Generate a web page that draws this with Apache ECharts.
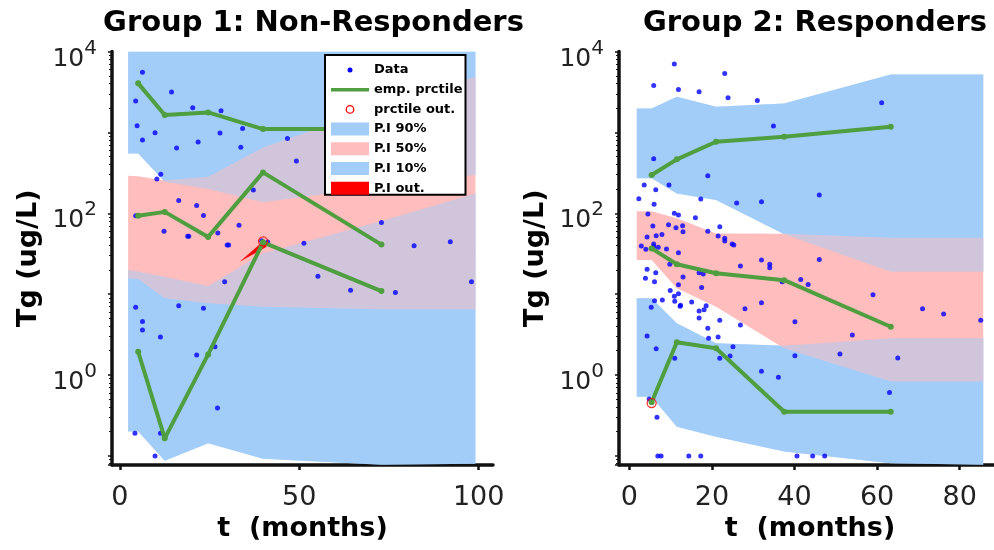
<!DOCTYPE html>
<html><head><meta charset="utf-8">
<script src="https://cdn.jsdelivr.net/npm/echarts@6.0.0/dist/echarts.min.js"></script>
<style>html,body{margin:0;padding:0;background:#fff}#c{width:994px;height:550px}</style>
</head><body><div id="c"></div>
<script>
// ---------------- data ----------------
const titles = ['Group 1: Non-Responders', 'Group 2: Responders'];
const xName = 't  (months)';
const yName = 'Tg (ug/L)';
const g1XTicks = [0, 50, 100];
const g2XTicks = [0, 20, 40, 60, 80];
const yLabelExps = [0, 2, 4];

// Group 1 prediction-interval bands (vertex times, lower / upper)
const g1BinT   = [2.3, 5.1, 12.5, 24.6, 39.9, 72.9, 99.1];
const g1Pi90Lo = [550, 550, 245, 200, 137, 215, 297];
const g1Pi90Hi = [10000, 10000, 10000, 10000, 10000, 10000, 10000];
const g1Pi50Lo = [15.7, 15.4, 8.9, 7.7, 7.0, 6.5, 6.5];
const g1Pi50Hi = [291, 286, 255, 283, 650, 2100, 4865];
const g1Pi10Lo = [0.2, 0.2, 0.087, 0.143, 0.092, 0.0775, 0.08];
const g1Pi10Hi = [19.9, 19, 16.4, 12.6, 32, 80, 176];
// Group 1 empirical percentiles
const g1PctT = [5.1, 12.5, 24.6, 39.9, 72.9];
const g1P90  = [4036, 1636, 1767, 1099, 1099];
const g1P50  = [93, 104, 51, 320, 41];
const g1P10  = [1.94, 0.165, 1.8, 43.7, 10.9];
const g1OutT = [39.9];
const g1OutV = [45];
const g1WedgeT = [33.4, 39.7, 40.9];
const g1WedgeV = [25.1, 44.0, 38.5];
// Group 1 observations
const g1DataT = [6.3,4.4,14.4,20.3,28.2,4.8,9.8,6.3,15.8,21.8,27.9,34.2,33.7,46.7,49.2,11.4,10.3,37.2,16.4,21.4,23.3,4.4,12.3,18.9,19.2,27.3,33.2,29.9,30.3,39.5,41.2,51.3,72.9,82.0,92.1,29.2,55.2,64.3,76.8,98.0,4.4,16.4,23.3,6.3,6.3,11.3,26.5,21.4,27.2,4.2,11.3,9.8];
const g1DataV = [5520,2438,3148,2014,1849,1207,988,804,640,759,980,1120,653,843,442,303,265,194,144,125,94,93,60,52,52,57,71,40.4,40.4,45.7,44,42.5,77,39.7,44.4,14.2,16.7,11.2,10.5,14.2,6.9,7.2,6.7,4.6,3.6,2.95,2.24,1.77,0.39,0.19,0.19,0.1];

// Group 2 prediction-interval bands
const g2BinT   = [1.8, 5.4, 11.5, 21.0, 37.5, 63.3, 85.7];
const g2Pi90Lo = [270, 270, 176, 146, 55, 18.9, 18.9];
const g2Pi90Hi = [1978, 1978, 2754, 2074, 2281, 5210, 5210];
const g2Pi50Lo = [26.4, 26.4, 11.8, 7.0, 2.15, 0.83, 0.83];
const g2Pi50Hi = [106, 106, 86.5, 56.4, 56, 49.8, 49.8];
const g2Pi10Lo = [0.54, 0.54, 0.23, 0.173, 0.113, 0.081, 0.0775];
const g2Pi10Hi = [8.87, 8.87, 4.36, 2.47, 2.3, 2.84, 2.84];
// Group 2 empirical percentiles
const g2PctT = [5.4, 11.5, 21.0, 37.5, 63.3];
const g2P90  = [297, 464, 765, 883, 1172];
const g2P50  = [36.8, 23.4, 18.1, 14.9, 3.95];
const g2P10  = [0.46, 2.54, 2.14, 0.352, 0.352];
const g2OutT = [5.4];
const g2OutV = [0.45];
// Group 2 observations
const g2DataT = [10.9,23.1,5.9,11.9,16.9,23.9,31.0,34.9,5.9,19.0,3.6,6.4,9.6,2.3,6.0,17.3,26.0,32.0,4.5,10.9,11.9,16.0,5.7,9.5,11.3,12.9,13.0,19.0,21.9,4.3,6.5,7.9,21.5,23.1,23.1,24.9,25.3,2.9,4.0,5.9,5.9,7.0,9.0,11.9,61.1,46.0,9.8,4.3,6.4,3.9,6.1,13.0,16.9,17.9,11.9,17.5,26.9,32.0,34.0,34.0,41.5,9.9,11.9,10.9,6.1,8.0,11.0,12.4,12.3,5.3,15.1,18.6,18.1,16.9,16.9,28.0,32.0,21.9,26.9,19.0,19.2,21.5,4.3,6.5,25.1,40.1,11.0,21.9,24.4,32.0,36.1,40.1,4.8,6.7,6.9,7.7,14.4,17.3,40.6,46.0,43.3,59.0,71.0,76.1,85.1,54.0,51.0,65.0,63.0,44.4,47.3,37.0];
const g2DataV = [6985,5360,3810,3400,3180,2680,2487,1197,472,291,223,195,223,151,129,150,134,139,97.8,99.8,95,88,69.5,72,66,70,59,60,68,50.8,52.7,54.8,52.3,49,45.3,41.6,40.4,39.3,35.8,41.6,38.5,37.9,36.1,32.5,2322,168,23.4,20.3,18.4,15.7,14.2,16.3,18.4,17.7,13.1,12.1,22.3,26.4,23.4,21.2,15.2,11.1,10.1,9.4,8.3,8.45,8.15,7.3,7.1,6.9,8.0,7.2,6.4,6.2,5.07,6.6,7.8,4.75,4.15,3.78,2.84,2.95,3.03,2.11,2.24,4.56,1.61,1.61,1.72,1.11,0.94,1.73,0.505,0.30,0.1,0.1,0.1,0.1,0.1,26.8,13.2,9.8,6.6,5.7,4.75,3.12,1.82,1.62,0.61,0.1,0.1,14.2];

// ---------------- styles ----------------
const FONT = 'DejaVu Sans';
const BLUE = '#a3cdf9', PINK = '#ffbdbd', GREEN = '#4f9e3f', RED = '#ff0000', DOT = '#0000ff';
const AX = '#111';
const Y_MIN = 0.0772, Y_MAX = 10000;

const zip = (a, b) => a.map((v, i) => [v, b[i]]);
const rows = (t, lo, hi) => t.map((v, i) => [v, lo[i], hi[i]]);

function bandSeries(name, gi, data, color, alpha, z) {
  return {
    type: 'custom', name: name, xAxisIndex: gi, yAxisIndex: gi, z: z, clip: true, silent: true,
    itemStyle: { color: color }, encode: { x: 0, y: [1, 2] }, data: data,
    renderItem: function (params, api) {
      if (params.dataIndexInside !== 0) return null;
      const pts = [];
      for (let i = 0; i < data.length; i++) pts.push(api.coord([data[i][0], data[i][2]]));
      for (let i = data.length - 1; i >= 0; i--) pts.push(api.coord([data[i][0], data[i][1]]));
      return { type: 'polygon', shape: { points: pts }, style: { fill: color, opacity: alpha } };
    }
  };
}
function polySeries(name, gi, data, color, z) {
  return {
    type: 'custom', name: name, xAxisIndex: gi, yAxisIndex: gi, z: z, clip: true, silent: true,
    itemStyle: { color: color }, data: data,
    renderItem: function (params, api) {
      if (params.dataIndexInside !== 0) return null;
      const pts = data.map(function (d) { return api.coord(d); });
      return { type: 'polygon', shape: { points: pts }, style: { fill: color } };
    }
  };
}
function lineSeries(gi, t, v) {
  return {
    type: 'line', name: 'emp. prctile', xAxisIndex: gi, yAxisIndex: gi, z: 6, silent: true,
    data: zip(t, v), symbol: 'circle', symbolSize: 6, showSymbol: true,
    lineStyle: { color: GREEN, width: 4 }, itemStyle: { color: GREEN }
  };
}
function dataSeries(gi, t, v) {
  return {
    type: 'scatter', name: 'Data', xAxisIndex: gi, yAxisIndex: gi, z: 4, silent: true,
    data: zip(t, v), symbol: 'circle', symbolSize: 5, itemStyle: { color: DOT }
  };
}
function outSeries(gi, t, v) {
  return {
    type: 'scatter', name: 'prctile out.', xAxisIndex: gi, yAxisIndex: gi, z: 8, silent: true,
    data: zip(t, v), symbol: 'circle', symbolSize: 9,
    itemStyle: { color: 'rgba(0,0,0,0)', borderColor: RED, borderWidth: 1.3 }
  };
}

function yLabel(v) {
  const e = Math.log10(v), r = Math.round(e);
  if (Math.abs(e - r) > 1e-6 || yLabelExps.indexOf(r) < 0) return '';
  return '{b|10}{s|' + r + '}';
}
function xAxisCfg(gi, min, max, ticks) {
  return {
    gridIndex: gi, type: 'value', min: min, max: max,
    name: xName, nameLocation: 'middle', nameGap: 50, nameMoveOverlap: false,
    nameTextStyle: { fontFamily: FONT, fontWeight: 'bold', fontSize: 27, color: '#000', lineHeight: 27 },
    axisLine: { show: true, onZero: false, lineStyle: { color: AX, width: 3.5 } },
    axisTick: { show: true, customValues: ticks, length: 5, lineStyle: { color: AX, width: 2.5 } },
    axisLabel: { customValues: ticks, fontFamily: FONT, fontSize: 27, color: '#222', margin: 19.5, lineHeight: 27 },
    splitLine: { show: false }
  };
}
function yAxisCfg(gi) {
  return {
    gridIndex: gi, type: 'log', logBase: 10, min: Y_MIN, max: Y_MAX,
    name: yName, nameLocation: 'middle', nameGap: 70, nameRotate: 90, nameMoveOverlap: false,
    nameTextStyle: { fontFamily: FONT, fontWeight: 'bold', fontSize: 27, color: '#000', lineHeight: 27 },
    axisLine: { show: true, onZero: false, lineStyle: { color: AX, width: 3.5 } },
    axisTick: { show: true, length: 4, lineStyle: { color: AX, width: 1.5 } },
    minorTick: { show: true, splitNumber: 9, length: 3, lineStyle: { color: AX, width: 1 } },
    axisLabel: {
      formatter: yLabel, margin: 15,
      rich: {
        b: { fontFamily: FONT, fontSize: 25, color: '#222', padding: [15, 0, 0, 0] },
        s: { fontFamily: FONT, fontSize: 20, color: '#222', padding: [0, 0, 6, 0] }
      }
    },
    splitLine: { show: false }, minorSplitLine: { show: false }
  };
}

const series = [
  // group 1 bands: opaque blue, pink, then blue at half opacity for the overlaps
  bandSeries('P.I 90%', 0, rows(g1BinT, g1Pi90Lo, g1Pi90Hi), BLUE, 1, 1),
  bandSeries('P.I 10%', 0, rows(g1BinT, g1Pi10Lo, g1Pi10Hi), BLUE, 1, 1),
  bandSeries('P.I 50%', 0, rows(g1BinT, g1Pi50Lo, g1Pi50Hi), PINK, 1, 2),
  bandSeries('ov90a', 0, rows(g1BinT, g1Pi90Lo, g1Pi90Hi), BLUE, 0.5, 3),
  bandSeries('ov10a', 0, rows(g1BinT, g1Pi10Lo, g1Pi10Hi), BLUE, 0.5, 3),
  // group 2 bands
  bandSeries('P.I 90%', 1, rows(g2BinT, g2Pi90Lo, g2Pi90Hi), BLUE, 1, 1),
  bandSeries('P.I 10%', 1, rows(g2BinT, g2Pi10Lo, g2Pi10Hi), BLUE, 1, 1),
  bandSeries('P.I 50%', 1, rows(g2BinT, g2Pi50Lo, g2Pi50Hi), PINK, 1, 2),
  bandSeries('ov90b', 1, rows(g2BinT, g2Pi90Lo, g2Pi90Hi), BLUE, 0.5, 3),
  bandSeries('ov10b', 1, rows(g2BinT, g2Pi10Lo, g2Pi10Hi), BLUE, 0.5, 3),
  dataSeries(0, g1DataT, g1DataV),
  dataSeries(1, g2DataT, g2DataV),
  polySeries('P.I out.', 0, zip(g1WedgeT, g1WedgeV), RED, 5),
  lineSeries(0, g1PctT, g1P90), lineSeries(0, g1PctT, g1P50), lineSeries(0, g1PctT, g1P10),
  lineSeries(1, g2PctT, g2P90), lineSeries(1, g2PctT, g2P50), lineSeries(1, g2PctT, g2P10),
  outSeries(0, g1OutT, g1OutV),
  outSeries(1, g2OutT, g2OutV)
];

const BOX = 'M0,0M38,13';
const option = {
  backgroundColor: '#fff',
  animation: false,
  title: [
    { text: titles[0], left: 313.5, top: 8, textAlign: 'center', padding: 0,
      textStyle: { fontFamily: FONT, fontWeight: 'bold', fontSize: 29, color: '#000', lineHeight: 31 } },
    { text: titles[1], left: 815, top: 8, textAlign: 'center', padding: 0,
      textStyle: { fontFamily: FONT, fontWeight: 'bold', fontSize: 29, color: '#000', lineHeight: 31 } }
  ],
  grid: [
    { left: 112, top: 51.5, width: 381, height: 413.5, outerBoundsMode: 'none', containLabel: false },
    { left: 619, top: 51.5, width: 382, height: 413.5, outerBoundsMode: 'none', containLabel: false }
  ],
  xAxis: [xAxisCfg(0, -2.2, 104, g1XTicks), xAxisCfg(1, -2.5, 90, g2XTicks)],
  yAxis: [yAxisCfg(0), yAxisCfg(1)],
  legend: {
    z: 30, zlevel: 1,
    left: 325, top: 55, orient: 'vertical', selectedMode: false,
    backgroundColor: '#fff', borderColor: '#000', borderWidth: 2, borderRadius: 0,
    padding: [8.5, 3, 0, 6], itemGap: 6.7, itemWidth: 38, itemHeight: 13,
    textStyle: { fontFamily: FONT, fontWeight: 'bold', fontSize: 13, color: '#000' },
    data: [
      { name: 'Data', icon: 'path://' + BOX + 'M16.5,6.5a2.5,2.5 0 1 1 5,0a2.5,2.5 0 1 1 -5,0Z',
        itemStyle: { color: DOT, borderWidth: 0, opacity: 1 } },
      { name: 'emp. prctile', icon: 'path://' + BOX + 'M0,4.7H38V8.3H0Z',
        itemStyle: { color: GREEN, borderWidth: 0, opacity: 1 } },
      { name: 'prctile out.', icon: 'path://' + BOX + 'M14.6,6.5a4.4,4.4 0 1 1 8.8,0a4.4,4.4 0 1 1 -8.8,0ZM15.9,6.5a3.1,3.1 0 1 0 6.2,0a3.1,3.1 0 1 0 -6.2,0Z',
        itemStyle: { color: RED, borderWidth: 0, opacity: 1 } },
      { name: 'P.I 90%', icon: 'rect', itemStyle: { color: BLUE, borderWidth: 0, opacity: 1 } },
      { name: 'P.I 50%', icon: 'rect', itemStyle: { color: PINK, borderWidth: 0, opacity: 1 } },
      { name: 'P.I 10%', icon: 'rect', itemStyle: { color: BLUE, borderWidth: 0, opacity: 1 } },
      { name: 'P.I out.', icon: 'rect', itemStyle: { color: RED, borderWidth: 0, opacity: 1 } }
    ]
  },
  series: series
};

const chart = echarts.init(document.getElementById('c'), null, { renderer: 'canvas' });
chart.setOption(option);
</script></body></html>
